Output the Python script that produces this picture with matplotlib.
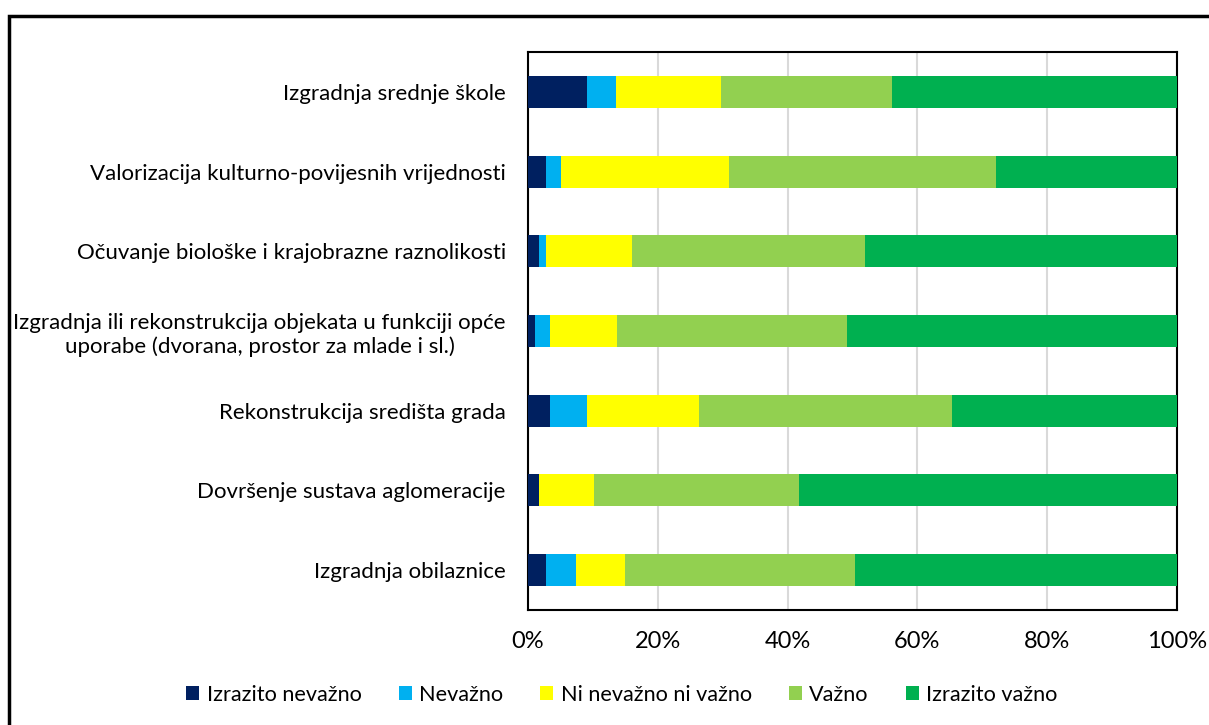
import matplotlib.pyplot as plt
from matplotlib.patches import Rectangle
import numpy as np

plt.rcParams['font.family'] = ['Lato', 'DejaVu Sans']

categories = [
    "Izgradnja srednje škole",
    "Valorizacija kulturno-povijesnih vrijednosti",
    "Očuvanje biološke i krajobrazne raznolikosti",
    "Izgradnja ili rekonstrukcija objekata u funkciji opće\nuporabe (dvorana, prostor za mlade i sl.)",
    "Rekonstrukcija središta grada",
    "Dovršenje sustava aglomeracije",
    "Izgradnja obilaznice",
]
series_names = ["Izrazito nevažno", "Nevažno", "Ni nevažno ni važno", "Važno", "Izrazito važno"]
izrazito_nevazno = [9.1, 2.8, 1.7, 1.1, 3.4, 1.7, 2.8]
nevazno = [4.5, 2.3, 1.1, 2.3, 5.7, 0.0, 4.6]
ni_ni = [16.1, 25.8, 13.2, 10.3, 17.3, 8.5, 7.5]
vazno = [26.4, 41.2, 36.0, 35.5, 38.9, 31.6, 35.5]
izrazito_vazno = [43.9, 27.9, 48.0, 50.8, 34.7, 58.2, 49.6]
colors = ["#002060", "#00b0f0", "#ffff00", "#92d050", "#00b050"]

fig = plt.figure(figsize=(12.09, 7.25), dpi=100)
ax = fig.add_axes([528 / 1209, 1 - 610 / 725, 649 / 1209, 558 / 725])

y = np.arange(len(categories))
left = np.zeros(len(categories))
for name, vals, c in zip(series_names, [izrazito_nevazno, nevazno, ni_ni, vazno, izrazito_vazno], colors):
    ax.barh(y, vals, left=left, height=0.4, color=c, label=name, zorder=3)
    left += np.array(vals)

ax.set_ylim(len(categories) - 0.5, -0.5)
ax.set_xlim(0, 100)
ax.set_yticks(y)
ax.set_yticklabels(categories, fontsize=16, ha='right', multialignment='center')
ax.tick_params(axis='y', length=0, pad=16)
ax.set_xticks([0, 20, 40, 60, 80, 100])
ax.set_xticklabels(["0%", "20%", "40%", "60%", "80%", "100%"], fontsize=17)
ax.tick_params(axis='x', length=0, pad=15)
ax.grid(axis='x', color='#d9d9d9', linewidth=1.5, zorder=0)
for s in ax.spines.values():
    s.set_color('black')
    s.set_linewidth(1.5)

leg = fig.legend(loc='center', bbox_to_anchor=(622 / 1209, 1 - 695 / 725), ncol=5, frameon=False,
                 fontsize=15.6, handlelength=0.6, handleheight=0.6, handletextpad=0.35,
                 columnspacing=1.7, borderpad=0)

# outer chart border
fig.patches.append(Rectangle((9 / 1209, -0.01), 1.1, 1 - 16 / 725 + 0.01, transform=fig.transFigure,
                             fill=False, edgecolor='black', linewidth=2.5))

fig.savefig("out.png", dpi=100)
